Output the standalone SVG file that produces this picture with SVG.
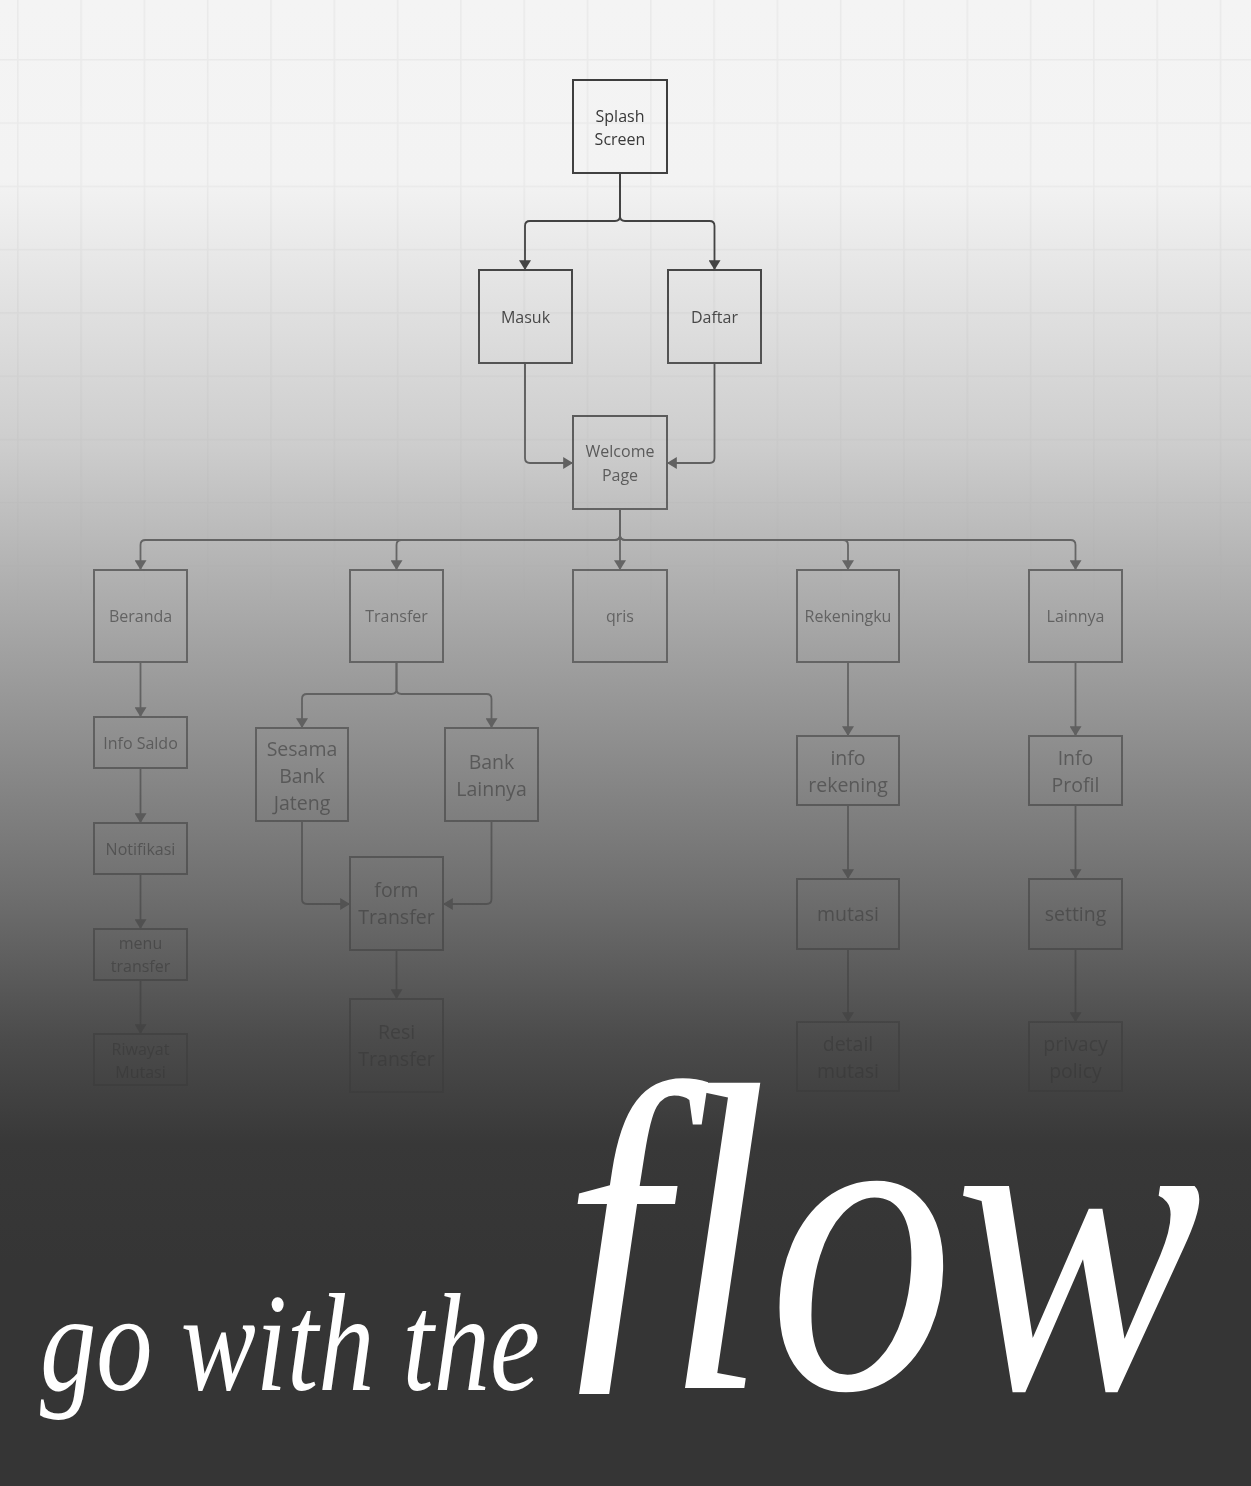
<svg xmlns="http://www.w3.org/2000/svg" width="1251" height="1486" viewBox="0 0 1251 1486">
<defs>
<linearGradient id="bg" gradientUnits="userSpaceOnUse" x1="0" y1="0" x2="0" y2="1486">
<stop offset="0" stop-color="#f4f4f4"/>
<stop offset="0.12" stop-color="#f3f3f3"/>
<stop offset="0.2" stop-color="#e2e2e2"/>
<stop offset="0.3" stop-color="#cdcdcd"/>
<stop offset="0.4" stop-color="#adadad"/>
<stop offset="0.5" stop-color="#8e8e8e"/>
<stop offset="0.6" stop-color="#6f6f6f"/>
<stop offset="0.7" stop-color="#4b4b4b"/>
<stop offset="0.77" stop-color="#383838"/>
<stop offset="0.85" stop-color="#353535"/>
<stop offset="1" stop-color="#353535"/>
</linearGradient>
<linearGradient id="fadeGrad" gradientUnits="userSpaceOnUse" x1="0" y1="0" x2="0" y2="1486">
<stop offset="0" stop-color="#fff" stop-opacity="1"/>
<stop offset="0.17" stop-color="#fff" stop-opacity="0.95"/>
<stop offset="0.3" stop-color="#fff" stop-opacity="0.75"/>
<stop offset="0.41" stop-color="#fff" stop-opacity="0.6"/>
<stop offset="0.74" stop-color="#fff" stop-opacity="0.45"/>
<stop offset="1" stop-color="#fff" stop-opacity="0.45"/>
</linearGradient>
<mask id="fade" maskUnits="userSpaceOnUse" x="0" y="0" width="1251" height="1486">
<rect x="0" y="0" width="1251" height="1486" fill="url(#fadeGrad)"/>
</mask>
<linearGradient id="gridGrad" gradientUnits="userSpaceOnUse" x1="0" y1="0" x2="0" y2="1486">
<stop offset="0" stop-color="#fff" stop-opacity="1"/>
<stop offset="0.2" stop-color="#fff" stop-opacity="0.8"/>
<stop offset="0.42" stop-color="#fff" stop-opacity="0"/>
<stop offset="1" stop-color="#fff" stop-opacity="0"/>
</linearGradient>
<mask id="gridFade" maskUnits="userSpaceOnUse" x="0" y="0" width="1251" height="1486">
<rect x="0" y="0" width="1251" height="1486" fill="url(#gridGrad)"/>
</mask>
<pattern id="grid" patternUnits="userSpaceOnUse" x="17" y="59" width="63.3" height="63.3">
<path d="M0,0 V63.3 M0,0 H63.3" fill="none" stroke="#000" stroke-opacity="0.04" stroke-width="3"/>
</pattern>
<marker id="arr" viewBox="0 0 9 11" refX="9" refY="5.5" markerWidth="10" markerHeight="12" markerUnits="userSpaceOnUse" orient="auto">
<path d="M0,0 L9,5.5 L0,11 z" fill="#3a3a3a"/>
</marker>
<style>
.box{fill:none;stroke:#3a3a3a;stroke-width:2}
.t{font-family:"Open Sans","Noto Sans","DejaVu Sans",sans-serif;font-size:16px;fill:#333;text-anchor:middle}
.l{font-size:19.5px}
.c{fill:none;stroke:#3a3a3a;stroke-width:1.8;marker-end:url(#arr)}
.big{font-family:"Liberation Serif","Times New Roman",serif;font-style:italic;fill:#fff}
</style>
</defs>
<rect x="0" y="0" width="1251" height="1486" fill="url(#bg)"/>
<rect x="0" y="0" width="1251" height="1486" fill="url(#grid)" mask="url(#gridFade)"/>
<g id="diagram" mask="url(#fade)">
<g id="connectors">
<path class="c" d="M620,173 V216 q0,5 -5,5 H530 q-5,0 -5,5 V270"/>
<path class="c" d="M620,173 V216 q0,5 5,5 H709.5 q5,0 5,5 V270"/>
<path class="c" d="M525,363 V458 q0,5 5,5 H573"/>
<path class="c" d="M714.5,363 V458 q0,5 -5,5 H667"/>
<path class="c" d="M620,509 V535 q0,5 -5,5 H145.5 q-5,0 -5,5 V570"/>
<path class="c" d="M620,509 V535 q0,5 -5,5 H401.5 q-5,0 -5,5 V570"/>
<path class="c" d="M620,509 V570"/>
<path class="c" d="M620,509 V535 q0,5 5,5 H843 q5,0 5,5 V570"/>
<path class="c" d="M620,509 V535 q0,5 5,5 H1070.5 q5,0 5,5 V570"/>
<path class="c" d="M140.5,662 V717"/>
<path class="c" d="M140.5,768 V823"/>
<path class="c" d="M140.5,874 V929"/>
<path class="c" d="M140.5,980 V1034"/>
<path class="c" d="M396.5,662 V689 q0,5 -5,5 H307 q-5,0 -5,5 V728"/>
<path class="c" d="M396.5,662 V689 q0,5 5,5 H486.5 q5,0 5,5 V728"/>
<path class="c" d="M302,821 V899 q0,5 5,5 H350"/>
<path class="c" d="M491.5,821 V899 q0,5 -5,5 H443"/>
<path class="c" d="M396.5,950 V999"/>
<path class="c" d="M848,662 V736"/>
<path class="c" d="M848,805 V879"/>
<path class="c" d="M848,949 V1022"/>
<path class="c" d="M1075.5,662 V736"/>
<path class="c" d="M1075.5,805 V879"/>
<path class="c" d="M1075.5,949 V1022"/>
</g>
<g id="splash"><rect class="box" x="573" y="80" width="94" height="93"/><text class="t" x="620" y="122">Splash</text><text class="t" x="620" y="145">Screen</text></g>
<g id="masuk"><rect class="box" x="479" y="270" width="93" height="93"/><text class="t" x="525.5" y="323">Masuk</text></g>
<g id="daftar"><rect class="box" x="668" y="270" width="93" height="93"/><text class="t" x="714.5" y="323">Daftar</text></g>
<g id="welcome"><rect class="box" x="573" y="416" width="94" height="93"/><text class="t" x="620" y="457">Welcome</text><text class="t" x="620" y="481">Page</text></g>
<g id="beranda"><rect class="box" x="94" y="570" width="93" height="92"/><text class="t" x="140.5" y="622">Beranda</text></g>
<g id="transfer"><rect class="box" x="350" y="570" width="93" height="92"/><text class="t" x="396.5" y="622">Transfer</text></g>
<g id="qris"><rect class="box" x="573" y="570" width="94" height="92"/><text class="t" x="620" y="622">qris</text></g>
<g id="rekeningku"><rect class="box" x="797" y="570" width="102" height="92"/><text class="t" x="848" y="622">Rekeningku</text></g>
<g id="lainnya"><rect class="box" x="1029" y="570" width="93" height="92"/><text class="t" x="1075.5" y="622">Lainnya</text></g>
<g id="info-saldo"><rect class="box" x="94" y="717" width="93" height="51"/><text class="t" x="140.5" y="749">Info Saldo</text></g>
<g id="notifikasi"><rect class="box" x="94" y="823" width="93" height="51"/><text class="t" x="140.5" y="855">Notifikasi</text></g>
<g id="menu-transfer"><rect class="box" x="94" y="929" width="93" height="51"/><text class="t" x="140.5" y="949">menu</text><text class="t" x="140.5" y="972">transfer</text></g>
<g id="riwayat-mutasi"><rect class="box" x="94" y="1034" width="93" height="51"/><text class="t" x="140.5" y="1055">Riwayat</text><text class="t" x="140.5" y="1078">Mutasi</text></g>
<g id="sesama"><rect class="box" x="256" y="728" width="92" height="93"/><text class="t l" x="302" y="756">Sesama</text><text class="t l" x="302" y="783">Bank</text><text class="t l" x="302" y="810">Jateng</text></g>
<g id="bank-lainnya"><rect class="box" x="445" y="728" width="93" height="93"/><text class="t l" x="491.5" y="769">Bank</text><text class="t l" x="491.5" y="796">Lainnya</text></g>
<g id="form-transfer"><rect class="box" x="350" y="857" width="93" height="93"/><text class="t l" x="396.5" y="897">form</text><text class="t l" x="396.5" y="924">Transfer</text></g>
<g id="resi-transfer"><rect class="box" x="350" y="999" width="93" height="93"/><text class="t l" x="396.5" y="1039">Resi</text><text class="t l" x="396.5" y="1066">Transfer</text></g>
<g id="info-rekening"><rect class="box" x="797" y="736" width="102" height="69"/><text class="t l" x="848" y="765">info</text><text class="t l" x="848" y="792">rekening</text></g>
<g id="mutasi"><rect class="box" x="797" y="879" width="102" height="70"/><text class="t l" x="848" y="921">mutasi</text></g>
<g id="detail-mutasi"><rect class="box" x="797" y="1022" width="102" height="69"/><text class="t l" x="848" y="1051">detail</text><text class="t l" x="848" y="1078">mutasi</text></g>
<g id="info-profil"><rect class="box" x="1029" y="736" width="93" height="69"/><text class="t l" x="1075.5" y="765">Info</text><text class="t l" x="1075.5" y="792">Profil</text></g>
<g id="setting"><rect class="box" x="1029" y="879" width="93" height="70"/><text class="t l" x="1075.5" y="921">setting</text></g>
<g id="privacy-policy"><rect class="box" x="1029" y="1022" width="93" height="69"/><text class="t l" x="1075.5" y="1051">privacy</text><text class="t l" x="1075.5" y="1078">policy</text></g>
</g>
<g id="title">
<text class="big" x="40" y="1390" font-size="140" textLength="500" lengthAdjust="spacingAndGlyphs">go with the</text>
<text class="big" x="562" y="1388" font-size="440" textLength="640" lengthAdjust="spacingAndGlyphs">flow</text>
<rect x="520" y="1394" width="200" height="92" fill="#353535"/>
</g>
</svg>
